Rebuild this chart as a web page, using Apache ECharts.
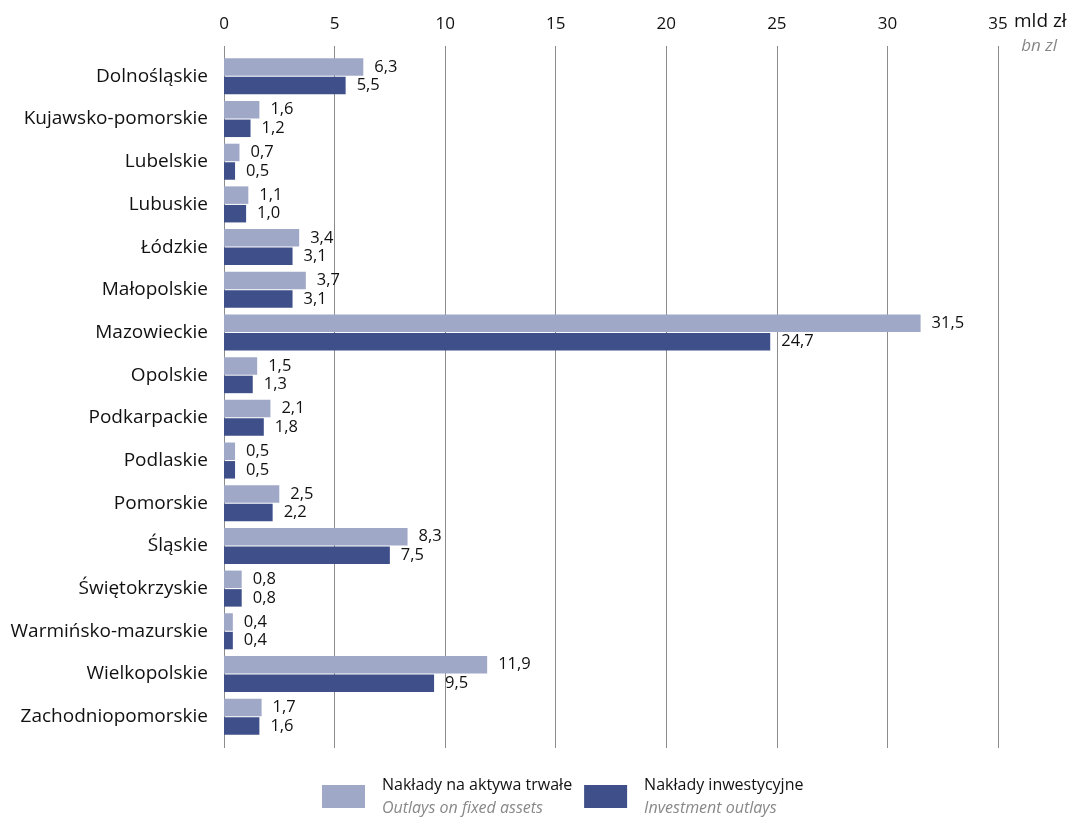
<!DOCTYPE html>
<html>
<head>
<meta charset="utf-8">
<script src="https://cdn.jsdelivr.net/npm/echarts@6/dist/echarts.min.js"></script>
<style>
html,body{margin:0;padding:0;background:#fff;}
#chart{width:1072px;height:820px;}
</style>
</head>
<body>
<div id="chart"></div>
<script>
const categories = ['Dolnośląskie','Kujawsko-pomorskie','Lubelskie','Lubuskie','Łódzkie','Małopolskie','Mazowieckie','Opolskie','Podkarpackie','Podlaskie','Pomorskie','Śląskie','Świętokrzyskie','Warmińsko-mazurskie','Wielkopolskie','Zachodniopomorskie'];
const fixedAssets = [6.3,1.6,0.7,1.1,3.4,3.7,31.5,1.5,2.1,0.5,2.5,8.3,0.8,0.4,11.9,1.7];
const investment = [5.5,1.2,0.5,1.0,3.1,3.1,24.7,1.3,1.8,0.5,2.2,7.5,0.8,0.4,9.5,1.6];
const seriesNames = ['Nakłady na aktywa trwałe','Nakłady inwestycyjne'];
const seriesNamesEn = ['Outlays on fixed assets','Investment outlays'];
const xTicks = [0,5,10,15,20,25,30,35];
const unitPl = 'mld zł';
const unitEn = 'bn zl';

const FONT = '"Open Sans", sans-serif';
const chart = echarts.init(document.getElementById('chart'));
const fmt = v => v.toFixed(1).replace('.', ',');

const option = {
  animation: false,
  textStyle: {fontFamily: FONT},
  grid: [
    {left: 224, right: 74, top: 55, bottom: 82, containLabel: false},
    {left: 224, right: 74, top: 46, bottom: 72, containLabel: false}
  ],
  xAxis: [
    {gridIndex: 0, type: 'value', min: 0, max: 35, interval: 5, show: false},
    {gridIndex: 1, type: 'value', position: 'top', min: 0, max: 35, interval: 5,
     axisLine: {show: false}, axisTick: {show: false},
     splitLine: {show: true, lineStyle: {color: '#8c8c8c', width: 1}},
     axisLabel: {show: true, margin: 13, fontSize: 17, color: '#111', fontFamily: FONT,
       formatter: v => xTicks.indexOf(v) >= 0 ? String(v) : ''}}
  ],
  yAxis: [
    {gridIndex: 0, type: 'category', data: categories, inverse: true,
     axisLine: {show: false}, axisTick: {show: false}, splitLine: {show: false},
     axisLabel: {margin: 16, fontSize: 19, color: '#111', fontFamily: FONT}},
    {gridIndex: 1, type: 'value', min: 0, max: 1, show: false}
  ],
  legend: {
    left: 317, top: 772, itemWidth: 43, itemHeight: 23, itemGap: 12,
    icon: 'rect',
    data: seriesNames,
    formatter: name => {
      const i = seriesNames.indexOf(name);
      return '{a|' + name + '}\n{b|' + seriesNamesEn[i] + '}';
    },
    textStyle: {
      fontFamily: FONT,
      rich: {
        a: {fontSize: 16, color: '#111', fontFamily: FONT, lineHeight: 23, padding: [0,0,0,12]},
        b: {fontSize: 16, color: '#888', fontStyle: 'italic', fontFamily: FONT, lineHeight: 23, padding: [0,0,0,12]}
      }
    }
  },
  graphic: [
    {type: 'text', left: 1014, top: 12, style: {text: unitPl, fontSize: 19, fill: '#111', fontFamily: FONT}},
    {type: 'text', right: 15, top: 38, style: {text: unitEn, fontSize: 17, fill: '#888', fontStyle: 'italic', fontFamily: FONT}}
  ],
  series: [
    {name: seriesNames[0], type: 'bar', xAxisIndex: 0, yAxisIndex: 0, data: fixedAssets,
     barWidth: 17.5, barGap: '6%', itemStyle: {color: '#a0a8c8'},
     label: {show: true, position: 'right', distance: 11, fontSize: 16.5, color: '#111', fontFamily: FONT,
       formatter: p => fmt(p.value)}},
    {name: seriesNames[1], type: 'bar', xAxisIndex: 0, yAxisIndex: 0, data: investment,
     barWidth: 17.5, barGap: '6%', itemStyle: {color: '#3f4f8a'},
     label: {show: true, position: 'right', distance: 11, fontSize: 16.5, color: '#111', fontFamily: FONT,
       formatter: p => fmt(p.value)}}
  ]
};
chart.setOption(option);
</script>
</body>
</html>
